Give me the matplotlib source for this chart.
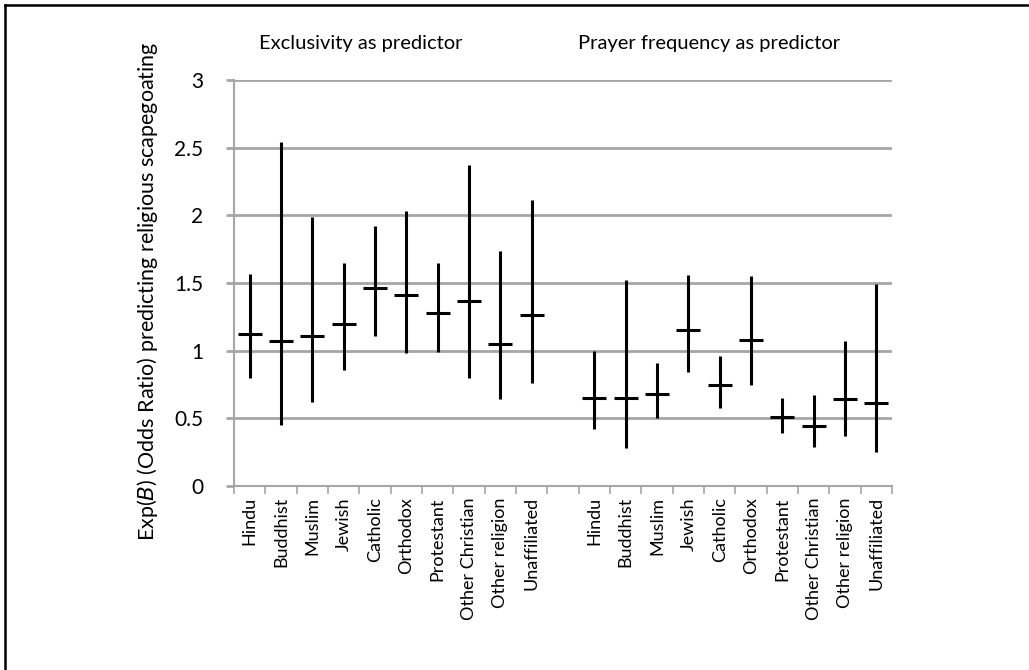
import numpy as np
import matplotlib.pyplot as plt
from matplotlib.lines import Line2D

plt.rcParams['font.family'] = ['Lato', 'DejaVu Sans']

religions = ['Hindu', 'Buddhist', 'Muslim', 'Jewish', 'Catholic', 'Orthodox',
             'Protestant', 'Other Christian', 'Other religion', 'Unaffiliated']

# exclusivity as predictor: odds ratio with low / high bounds
excl_mid = [1.12, 1.07, 1.11, 1.20, 1.46, 1.41, 1.28, 1.37, 1.05, 1.26]
excl_low = [0.80, 0.45, 0.62, 0.86, 1.11, 0.98, 0.99, 0.80, 0.64, 0.76]
excl_high = [1.57, 2.54, 1.99, 1.65, 1.92, 2.03, 1.65, 2.37, 1.74, 2.11]

# prayer frequency as predictor
pray_mid = [0.65, 0.65, 0.68, 1.15, 0.75, 1.08, 0.51, 0.44, 0.64, 0.61]
pray_low = [0.42, 0.28, 0.50, 0.84, 0.58, 0.75, 0.39, 0.29, 0.37, 0.25]
pray_high = [1.00, 1.52, 0.91, 1.56, 0.96, 1.55, 0.65, 0.67, 1.07, 1.49]

grey = '#a6a6a6'

fig = plt.figure(figsize=(10.29, 6.70), dpi=100)
ax = fig.add_axes([0.2274, 0.2746, 0.6395, 0.6060])

n = len(religions)
x_excl = np.arange(n)
x_pray = np.arange(n) + n + 1

for xs, mid, lo, hi in [(x_excl, excl_mid, excl_low, excl_high),
                        (x_pray, pray_mid, pray_low, pray_high)]:
    ax.vlines(xs, lo, hi, color='black', lw=2.2, zorder=3)
    ax.plot(xs, mid, ls='none', marker='_', ms=17, mew=2.2, color='black', zorder=4)

ax.set_xlim(-0.5, 2 * n + 0.5)
ax.set_ylim(0, 3)
ax.set_yticks(np.arange(0, 3.01, 0.5))
ax.set_yticklabels(['0', '0.5', '1', '1.5', '2', '2.5', '3'], fontsize=15)
ax.yaxis.grid(True, color=grey, lw=2)
ax.set_axisbelow(True)

# category labels centred in slots, ticks on slot boundaries
ax.set_xticks(np.arange(-0.5, 2 * n + 0.51, 1))
ax.set_xticklabels([])
ax.set_xticks(np.concatenate([x_excl, x_pray]), minor=True)
ax.set_xticklabels(religions + religions, minor=True, rotation=90, fontsize=13)
ax.tick_params(axis='x', which='minor', length=0, pad=8)
ax.tick_params(axis='x', which='major', length=6, width=1.2, color=grey)
ax.tick_params(axis='y', length=6, width=2, color=grey, pad=16)

for side in ['top', 'right']:
    ax.spines[side].set_visible(False)
for side in ['left', 'bottom']:
    ax.spines[side].set_color(grey)
    ax.spines[side].set_linewidth(1.5)

ax.set_ylabel(r'Exp($\mathit{B}$) (Odds Ratio) predicting religious scapegoating',
              fontsize=15.5)
ax.yaxis.set_label_coords(-0.112, 0.48)

fig.text(361 / 1029, 1 - 43 / 670, 'Exclusivity as predictor',
         ha='center', va='center', fontsize=14.5)
fig.text(709 / 1029, 1 - 43 / 670, 'Prayer frequency as predictor',
         ha='center', va='center', fontsize=14.5)

# frame around the figure (only top and left edges visible)
fig.add_artist(Line2D([5 / 1029, 1], [1 - 5 / 670, 1 - 5 / 670],
                      transform=fig.transFigure, color='black', lw=1.8))
fig.add_artist(Line2D([5 / 1029, 5 / 1029], [0, 1 - 5 / 670],
                      transform=fig.transFigure, color='black', lw=1.8))

fig.savefig('out.png', dpi=100)
